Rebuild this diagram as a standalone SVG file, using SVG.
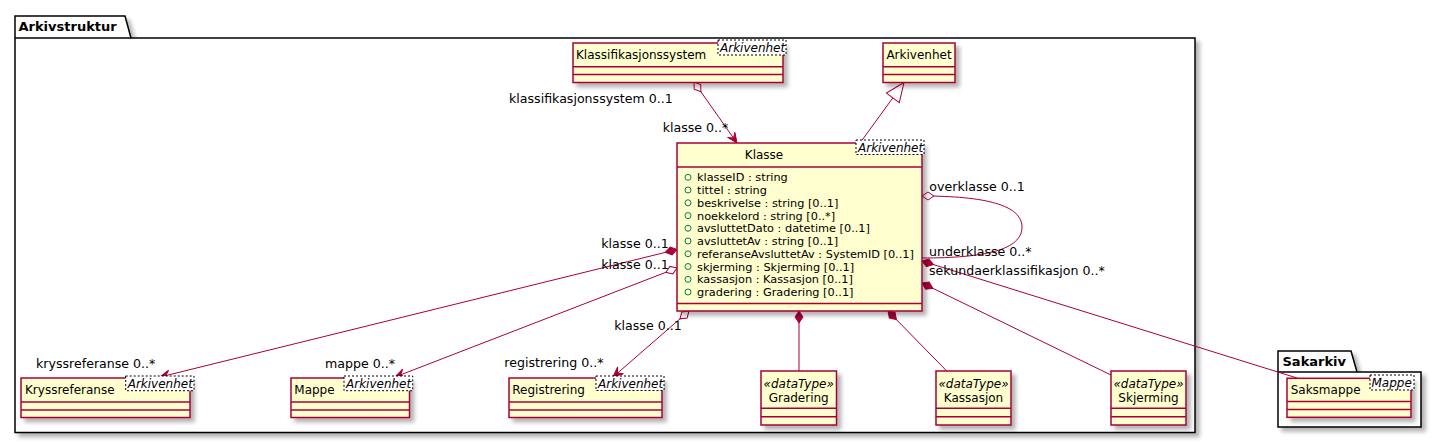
<svg xmlns="http://www.w3.org/2000/svg" width="1441" height="444" viewBox="0 0 1441 444">
<style>
text{font-family:"DejaVu Sans","Liberation Sans",sans-serif;fill:#000}
.cls{fill:#FEFECE;stroke:#A80036;stroke-width:1.5}
.sep{stroke:#A80036;stroke-width:1.5;fill:none}
.gen{fill:#fff;stroke:#000;stroke-width:1;stroke-dasharray:2,2}
.gt{font-size:12px;font-style:italic}
.nm{font-size:12px}
.st{font-size:12px;font-style:italic}
.at{font-size:11.3px}
.lb{font-size:12.6px}
.pk{fill:#fff;stroke:#000;stroke-width:1.5}
.pt{font-size:13px;font-weight:bold}
.cn{fill:none;stroke:#A80036;stroke-width:1}
.ci{fill:none;stroke:#038048;stroke-width:1}
</style>
<defs>
<filter id="sh" x="-5%" y="-5%" width="115%" height="130%">
<feGaussianBlur in="SourceAlpha" stdDeviation="2"/>
<feOffset dx="4" dy="4" result="o"/>
<feComponentTransfer><feFuncA type="linear" slope="0.3"/></feComponentTransfer>
<feMerge><feMergeNode/><feMergeNode in="SourceGraphic"/></feMerge>
</filter>
<marker id="dh" markerUnits="userSpaceOnUse" orient="auto" overflow="visible" markerWidth="14" markerHeight="10" refX="0" refY="0"><path d="M0,0 L6,-4 L12,0 L6,4 Z" fill="#fff" stroke="#A80036" stroke-width="1"/></marker>
<marker id="df" markerUnits="userSpaceOnUse" orient="auto" overflow="visible" markerWidth="14" markerHeight="10" refX="0" refY="0"><path d="M0,0 L6,-4 L12,0 L6,4 Z" fill="#A80036" stroke="#A80036" stroke-width="1"/></marker>
<marker id="ar" markerUnits="userSpaceOnUse" orient="auto" overflow="visible" markerWidth="12" markerHeight="10" refX="0" refY="0"><path d="M0,0 L-10,-4.5 L-6,0 L-10,4.5 Z" fill="#A80036" stroke="#A80036" stroke-width="1"/></marker>
<marker id="tr" markerUnits="userSpaceOnUse" orient="auto" overflow="visible" markerWidth="20" markerHeight="18" refX="0" refY="0"><path d="M0,0 L-19,-8 L-19,8 Z" fill="#fff" stroke="#A80036" stroke-width="1"/></marker>
</defs>

<g id="pkg-arkivstruktur">
<path class="pk" filter="url(#sh)" d="M15,16 L125,16 L131,38 L1195,38 L1195,432.5 L15,432.5 Z"/>
<line x1="15" y1="38" x2="131" y2="38" stroke="#000" stroke-width="1.5"/>
<text class="pt" x="18.5" y="30.5">Arkivstruktur</text>
</g>
<g id="pkg-sakarkiv">
<path class="pk" filter="url(#sh)" d="M1278,351 L1351,351 L1357,372 L1421,372 L1421,427 L1278,427 Z"/>
<line x1="1278" y1="372" x2="1357" y2="372" stroke="#000" stroke-width="1.5"/>
<text class="pt" x="1282.5" y="366">Sakarkiv</text>
</g>

<g id="connectors">
<path class="cn" d="M694,82 L737,143" marker-start="url(#dh)" marker-end="url(#ar)"/>
<path class="cn" d="M860,143 L904,82.5" marker-end="url(#tr)"/>
<path class="cn" d="M922,196 C985,196 1022,205 1022,227 C1022,250 985,258 922,258" marker-start="url(#dh)"/>
<path class="cn" d="M922,261 L1297,378" marker-start="url(#df)"/>
<path class="cn" d="M922,283 L1111,375" marker-start="url(#df)"/>
<path class="cn" d="M888,311 L946.7,371" marker-start="url(#df)"/>
<path class="cn" d="M799,311 L799,371" marker-start="url(#df)"/>
<path class="cn" d="M689,311 L613,377" marker-start="url(#dh)" marker-end="url(#ar)"/>
<path class="cn" d="M677,268 L395,377" marker-start="url(#dh)" marker-end="url(#ar)"/>
<path class="cn" d="M677,249.5 L160,377" marker-start="url(#df)" marker-end="url(#ar)"/>
<text class="lb" x="509" y="102.5">klassifikasjonssystem 0..1</text>
<text class="lb" x="662.7" y="131.8">klasse 0..*</text>
<text class="lb" x="929.3" y="191">overklasse 0..1</text>
<text class="lb" x="929" y="255.5">underklasse 0..*</text>
<text class="lb" x="929" y="274.5">sekundaerklassifikasjon 0..*</text>
<text class="lb" x="601.3" y="247.8">klasse 0..1</text>
<text class="lb" x="601.3" y="268.5">klasse 0..1</text>
<text class="lb" x="614.3" y="330">klasse 0..1</text>
<text class="lb" x="36" y="367.8">kryssreferanse 0..*</text>
<text class="lb" x="325" y="367.8">mappe 0..*</text>
<text class="lb" x="504.3" y="367">registrering 0..*</text>
</g>

<g id="node-klassifikasjonssystem">
<rect class="cls" filter="url(#sh)" x="573" y="43" width="210" height="39.5"/>
<line class="sep" x1="573" y1="66.7" x2="783" y2="66.7"/>
<line class="sep" x1="573" y1="74.6" x2="783" y2="74.6"/>
<text class="nm" x="576" y="59.3">Klassifikasjonssystem</text>
<rect class="gen" x="718" y="40" width="68" height="15"/>
<text class="gt" x="720" y="52">Arkivenhet</text>
</g>

<g id="node-arkivenhet">
<rect class="cls" filter="url(#sh)" x="883" y="43" width="72" height="39.5"/>
<line class="sep" x1="883" y1="66.7" x2="955" y2="66.7"/>
<line class="sep" x1="883" y1="74.6" x2="955" y2="74.6"/>
<text class="nm" x="919" y="59.3" text-anchor="middle">Arkivenhet</text>
</g>

<g id="node-klasse">
<rect class="cls" filter="url(#sh)" x="677" y="143" width="245" height="168"/>
<line class="sep" x1="677" y1="167" x2="922" y2="167"/>
<line class="sep" x1="677" y1="303.5" x2="922" y2="303.5"/>
<text class="nm" x="764" y="159.3" text-anchor="middle">Klasse</text>
<rect class="gen" x="856" y="140" width="68" height="14.5"/>
<text class="gt" x="858" y="152">Arkivenhet</text>
<circle class="ci" cx="688" cy="177.3" r="3"/><text class="at" x="697" y="181.3">klasseID : string</text>
<circle class="ci" cx="688" cy="190" r="3"/><text class="at" x="697" y="194">tittel : string</text>
<circle class="ci" cx="688" cy="202.8" r="3"/><text class="at" x="697" y="206.8">beskrivelse : string [0..1]</text>
<circle class="ci" cx="688" cy="215.6" r="3"/><text class="at" x="697" y="219.6">noekkelord : string [0..*]</text>
<circle class="ci" cx="688" cy="228.3" r="3"/><text class="at" x="697" y="232.3">avsluttetDato : datetime [0..1]</text>
<circle class="ci" cx="688" cy="241" r="3"/><text class="at" x="697" y="245">avsluttetAv : string [0..1]</text>
<circle class="ci" cx="688" cy="253.8" r="3"/><text class="at" x="697" y="257.8">referanseAvsluttetAv : SystemID [0..1]</text>
<circle class="ci" cx="688" cy="266.5" r="3"/><text class="at" x="697" y="270.5">skjerming : Skjerming [0..1]</text>
<circle class="ci" cx="688" cy="279.3" r="3"/><text class="at" x="697" y="283.3">kassasjon : Kassasjon [0..1]</text>
<circle class="ci" cx="688" cy="292" r="3"/><text class="at" x="697" y="296">gradering : Gradering [0..1]</text>
</g>

<g id="node-kryssreferanse">
<rect class="cls" filter="url(#sh)" x="21" y="378" width="169" height="39.5"/>
<line class="sep" x1="21" y1="402" x2="190" y2="402"/>
<line class="sep" x1="21" y1="410" x2="190" y2="410"/>
<text class="nm" x="25" y="394.3">Kryssreferanse</text>
<rect class="gen" x="125.7" y="376" width="68.3" height="14.7"/>
<text class="gt" x="127.7" y="388">Arkivenhet</text>
</g>

<g id="node-mappe">
<rect class="cls" filter="url(#sh)" x="291" y="378" width="118.5" height="39.5"/>
<line class="sep" x1="291" y1="402" x2="409.5" y2="402"/>
<line class="sep" x1="291" y1="410" x2="409.5" y2="410"/>
<text class="nm" x="294.3" y="394.3">Mappe</text>
<rect class="gen" x="344" y="376" width="68.7" height="14.7"/>
<text class="gt" x="346" y="388">Arkivenhet</text>
</g>

<g id="node-registrering">
<rect class="cls" filter="url(#sh)" x="509" y="378" width="153" height="39.5"/>
<line class="sep" x1="509" y1="402" x2="662" y2="402"/>
<line class="sep" x1="509" y1="410" x2="662" y2="410"/>
<text class="nm" x="512.3" y="393.8">Registrering</text>
<rect class="gen" x="596" y="376" width="68" height="14.5"/>
<text class="gt" x="598" y="388">Arkivenhet</text>
</g>

<g id="node-gradering">
<rect class="cls" filter="url(#sh)" x="761" y="371" width="75.5" height="54"/>
<line class="sep" x1="761" y1="408.3" x2="836.5" y2="408.3"/>
<line class="sep" x1="761" y1="416.7" x2="836.5" y2="416.7"/>
<text class="st" x="798.7" y="387.5" text-anchor="middle">«dataType»</text>
<text class="nm" x="798.7" y="401.5" text-anchor="middle">Gradering</text>
</g>

<g id="node-kassasjon">
<rect class="cls" filter="url(#sh)" x="936" y="371" width="75" height="54"/>
<line class="sep" x1="936" y1="408.3" x2="1011" y2="408.3"/>
<line class="sep" x1="936" y1="416.7" x2="1011" y2="416.7"/>
<text class="st" x="973.5" y="387.5" text-anchor="middle">«dataType»</text>
<text class="nm" x="973.5" y="401.5" text-anchor="middle">Kassasjon</text>
</g>

<g id="node-skjerming">
<rect class="cls" filter="url(#sh)" x="1111" y="371" width="75" height="54"/>
<line class="sep" x1="1111" y1="408.3" x2="1186" y2="408.3"/>
<line class="sep" x1="1111" y1="416.7" x2="1186" y2="416.7"/>
<text class="st" x="1148.5" y="387.5" text-anchor="middle">«dataType»</text>
<text class="nm" x="1148.5" y="401.5" text-anchor="middle">Skjerming</text>
</g>

<g id="node-saksmappe">
<rect class="cls" filter="url(#sh)" x="1287" y="378.3" width="124" height="39"/>
<line class="sep" x1="1287" y1="401.5" x2="1411" y2="401.5"/>
<line class="sep" x1="1287" y1="409.5" x2="1411" y2="409.5"/>
<text class="nm" x="1290.7" y="394.3">Saksmappe</text>
<rect class="gen" x="1370" y="375" width="44" height="15"/>
<text class="gt" x="1371.5" y="387">Mappe</text>
</g>
</svg>
